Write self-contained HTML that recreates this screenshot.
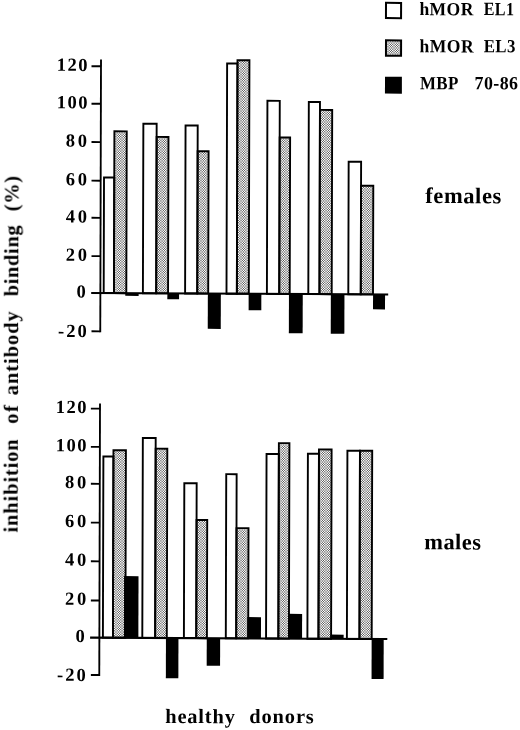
<!DOCTYPE html>
<html lang="en">
<head>
<meta charset="utf-8">
<title>Inhibition of antibody binding</title>
<style>
html,body{margin:0;padding:0;background:#fff;}
body{width:520px;height:730px;overflow:hidden;}
svg{display:block;filter:grayscale(1);}
text{font-family:"Liberation Serif","Times New Roman",serif;font-weight:bold;fill:#000;text-rendering:geometricPrecision;white-space:pre;}
</style>
</head>
<body>
<svg width="520" height="730" viewBox="0 0 520 730">
<defs>
<pattern id="dots" width="17" height="17" patternUnits="userSpaceOnUse" shape-rendering="crispEdges">
<rect width="17" height="17" fill="#fff"/>
<rect x="1" y="0" width="1" height="1" fill="#757575"/><rect x="2" y="0" width="1" height="1" fill="#cccccc"/><rect x="3" y="0" width="1" height="1" fill="#dedede"/><rect x="4" y="0" width="1" height="1" fill="#696969"/><rect x="6" y="0" width="1" height="1" fill="#5f5f5f"/><rect x="7" y="0" width="1" height="1" fill="#efefef"/><rect x="8" y="0" width="1" height="1" fill="#b9b9b9"/><rect x="9" y="0" width="1" height="1" fill="#848484"/><rect x="11" y="0" width="1" height="1" fill="#555555"/><rect x="13" y="0" width="1" height="1" fill="#959595"/><rect x="14" y="0" width="1" height="1" fill="#a7a7a7"/><rect x="15" y="0" width="1" height="1" fill="#fefefe"/><rect x="16" y="0" width="1" height="1" fill="#585858"/><rect x="0" y="1" width="1" height="1" fill="#757575"/><rect x="1" y="1" width="1" height="1" fill="#e9e9e9"/><rect x="2" y="1" width="1" height="1" fill="#adadad"/><rect x="3" y="1" width="1" height="1" fill="#a0a0a0"/><rect x="4" y="1" width="1" height="1" fill="#f2f2f2"/><rect x="5" y="1" width="1" height="1" fill="#737373"/><rect x="6" y="1" width="1" height="1" fill="#f9f9f9"/><rect x="7" y="1" width="1" height="1" fill="#949494"/><rect x="8" y="1" width="1" height="1" fill="#bababa"/><rect x="9" y="1" width="1" height="1" fill="#dfdfdf"/><rect x="10" y="1" width="1" height="1" fill="#7a7a7a"/><rect x="12" y="1" width="1" height="1" fill="#818181"/><rect x="13" y="1" width="1" height="1" fill="#d3d3d3"/><rect x="14" y="1" width="1" height="1" fill="#c6c6c6"/><rect x="15" y="1" width="1" height="1" fill="#8a8a8a"/><rect x="16" y="1" width="1" height="1" fill="#fefefe"/><rect x="0" y="2" width="1" height="1" fill="#cccccc"/><rect x="1" y="2" width="1" height="1" fill="#adadad"/><rect x="2" y="2" width="1" height="1" fill="#bdbdbd"/><rect x="3" y="2" width="1" height="1" fill="#c0c0c0"/><rect x="4" y="2" width="1" height="1" fill="#aaaaaa"/><rect x="5" y="2" width="1" height="1" fill="#cdcdcd"/><rect x="6" y="2" width="1" height="1" fill="#a8a8a8"/><rect x="7" y="2" width="1" height="1" fill="#c4c4c4"/><rect x="8" y="2" width="1" height="1" fill="#b9b9b9"/><rect x="9" y="2" width="1" height="1" fill="#afafaf"/><rect x="10" y="2" width="1" height="1" fill="#cbcbcb"/><rect x="11" y="2" width="1" height="1" fill="#a6a6a6"/><rect x="12" y="2" width="1" height="1" fill="#c9c9c9"/><rect x="13" y="2" width="1" height="1" fill="#b3b3b3"/><rect x="14" y="2" width="1" height="1" fill="#b6b6b6"/><rect x="15" y="2" width="1" height="1" fill="#c6c6c6"/><rect x="16" y="2" width="1" height="1" fill="#a7a7a7"/><rect x="0" y="3" width="1" height="1" fill="#dedede"/><rect x="1" y="3" width="1" height="1" fill="#a0a0a0"/><rect x="2" y="3" width="1" height="1" fill="#c0c0c0"/><rect x="3" y="3" width="1" height="1" fill="#c7c7c7"/><rect x="4" y="3" width="1" height="1" fill="#9b9b9b"/><rect x="5" y="3" width="1" height="1" fill="#dfdfdf"/><rect x="6" y="3" width="1" height="1" fill="#989898"/><rect x="7" y="3" width="1" height="1" fill="#cdcdcd"/><rect x="8" y="3" width="1" height="1" fill="#b9b9b9"/><rect x="9" y="3" width="1" height="1" fill="#a6a6a6"/><rect x="10" y="3" width="1" height="1" fill="#dbdbdb"/><rect x="11" y="3" width="1" height="1" fill="#949494"/><rect x="12" y="3" width="1" height="1" fill="#d8d8d8"/><rect x="13" y="3" width="1" height="1" fill="#acacac"/><rect x="14" y="3" width="1" height="1" fill="#b3b3b3"/><rect x="15" y="3" width="1" height="1" fill="#d3d3d3"/><rect x="16" y="3" width="1" height="1" fill="#959595"/><rect x="0" y="4" width="1" height="1" fill="#696969"/><rect x="1" y="4" width="1" height="1" fill="#f2f2f2"/><rect x="2" y="4" width="1" height="1" fill="#aaaaaa"/><rect x="3" y="4" width="1" height="1" fill="#9b9b9b"/><rect x="4" y="4" width="1" height="1" fill="#fcfcfc"/><rect x="5" y="4" width="1" height="1" fill="#666666"/><rect x="7" y="4" width="1" height="1" fill="#8d8d8d"/><rect x="8" y="4" width="1" height="1" fill="#bababa"/><rect x="9" y="4" width="1" height="1" fill="#e6e6e6"/><rect x="10" y="4" width="1" height="1" fill="#6e6e6e"/><rect x="12" y="4" width="1" height="1" fill="#777777"/><rect x="13" y="4" width="1" height="1" fill="#d8d8d8"/><rect x="14" y="4" width="1" height="1" fill="#c9c9c9"/><rect x="15" y="4" width="1" height="1" fill="#818181"/><rect x="1" y="5" width="1" height="1" fill="#737373"/><rect x="2" y="5" width="1" height="1" fill="#cdcdcd"/><rect x="3" y="5" width="1" height="1" fill="#dfdfdf"/><rect x="4" y="5" width="1" height="1" fill="#666666"/><rect x="6" y="5" width="1" height="1" fill="#5c5c5c"/><rect x="7" y="5" width="1" height="1" fill="#f1f1f1"/><rect x="8" y="5" width="1" height="1" fill="#b9b9b9"/><rect x="9" y="5" width="1" height="1" fill="#828282"/><rect x="11" y="5" width="1" height="1" fill="#515151"/><rect x="13" y="5" width="1" height="1" fill="#949494"/><rect x="14" y="5" width="1" height="1" fill="#a6a6a6"/><rect x="16" y="5" width="1" height="1" fill="#555555"/><rect x="0" y="6" width="1" height="1" fill="#5f5f5f"/><rect x="1" y="6" width="1" height="1" fill="#f9f9f9"/><rect x="2" y="6" width="1" height="1" fill="#a8a8a8"/><rect x="3" y="6" width="1" height="1" fill="#989898"/><rect x="5" y="6" width="1" height="1" fill="#5c5c5c"/><rect x="7" y="6" width="1" height="1" fill="#888888"/><rect x="8" y="6" width="1" height="1" fill="#bababa"/><rect x="9" y="6" width="1" height="1" fill="#ebebeb"/><rect x="10" y="6" width="1" height="1" fill="#656565"/><rect x="12" y="6" width="1" height="1" fill="#6e6e6e"/><rect x="13" y="6" width="1" height="1" fill="#dbdbdb"/><rect x="14" y="6" width="1" height="1" fill="#cbcbcb"/><rect x="15" y="6" width="1" height="1" fill="#7a7a7a"/><rect x="0" y="7" width="1" height="1" fill="#efefef"/><rect x="1" y="7" width="1" height="1" fill="#949494"/><rect x="2" y="7" width="1" height="1" fill="#c4c4c4"/><rect x="3" y="7" width="1" height="1" fill="#cdcdcd"/><rect x="4" y="7" width="1" height="1" fill="#8d8d8d"/><rect x="5" y="7" width="1" height="1" fill="#f1f1f1"/><rect x="6" y="7" width="1" height="1" fill="#888888"/><rect x="7" y="7" width="1" height="1" fill="#d7d7d7"/><rect x="8" y="7" width="1" height="1" fill="#b9b9b9"/><rect x="9" y="7" width="1" height="1" fill="#9c9c9c"/><rect x="10" y="7" width="1" height="1" fill="#ebebeb"/><rect x="11" y="7" width="1" height="1" fill="#828282"/><rect x="12" y="7" width="1" height="1" fill="#e6e6e6"/><rect x="13" y="7" width="1" height="1" fill="#a6a6a6"/><rect x="14" y="7" width="1" height="1" fill="#afafaf"/><rect x="15" y="7" width="1" height="1" fill="#dfdfdf"/><rect x="16" y="7" width="1" height="1" fill="#848484"/><rect x="0" y="8" width="1" height="1" fill="#b9b9b9"/><rect x="1" y="8" width="1" height="1" fill="#bababa"/><rect x="2" y="8" width="2" height="1" fill="#b9b9b9"/><rect x="4" y="8" width="1" height="1" fill="#bababa"/><rect x="5" y="8" width="1" height="1" fill="#b9b9b9"/><rect x="6" y="8" width="1" height="1" fill="#bababa"/><rect x="7" y="8" width="1" height="1" fill="#b9b9b9"/><rect x="8" y="8" width="2" height="1" fill="#bababa"/><rect x="10" y="8" width="1" height="1" fill="#b9b9b9"/><rect x="11" y="8" width="1" height="1" fill="#bababa"/><rect x="12" y="8" width="1" height="1" fill="#b9b9b9"/><rect x="13" y="8" width="2" height="1" fill="#bababa"/><rect x="15" y="8" width="1" height="1" fill="#b9b9b9"/><rect x="16" y="8" width="1" height="1" fill="#bababa"/><rect x="0" y="9" width="1" height="1" fill="#848484"/><rect x="1" y="9" width="1" height="1" fill="#dfdfdf"/><rect x="2" y="9" width="1" height="1" fill="#afafaf"/><rect x="3" y="9" width="1" height="1" fill="#a6a6a6"/><rect x="4" y="9" width="1" height="1" fill="#e6e6e6"/><rect x="5" y="9" width="1" height="1" fill="#828282"/><rect x="6" y="9" width="1" height="1" fill="#ebebeb"/><rect x="7" y="9" width="1" height="1" fill="#9c9c9c"/><rect x="8" y="9" width="1" height="1" fill="#bababa"/><rect x="9" y="9" width="1" height="1" fill="#d7d7d7"/><rect x="10" y="9" width="1" height="1" fill="#888888"/><rect x="11" y="9" width="1" height="1" fill="#f1f1f1"/><rect x="12" y="9" width="1" height="1" fill="#8d8d8d"/><rect x="13" y="9" width="1" height="1" fill="#cdcdcd"/><rect x="14" y="9" width="1" height="1" fill="#c4c4c4"/><rect x="15" y="9" width="1" height="1" fill="#949494"/><rect x="16" y="9" width="1" height="1" fill="#efefef"/><rect x="1" y="10" width="1" height="1" fill="#7a7a7a"/><rect x="2" y="10" width="1" height="1" fill="#cbcbcb"/><rect x="3" y="10" width="1" height="1" fill="#dbdbdb"/><rect x="4" y="10" width="1" height="1" fill="#6e6e6e"/><rect x="6" y="10" width="1" height="1" fill="#656565"/><rect x="7" y="10" width="1" height="1" fill="#ebebeb"/><rect x="8" y="10" width="1" height="1" fill="#b9b9b9"/><rect x="9" y="10" width="1" height="1" fill="#888888"/><rect x="11" y="10" width="1" height="1" fill="#5c5c5c"/><rect x="13" y="10" width="1" height="1" fill="#989898"/><rect x="14" y="10" width="1" height="1" fill="#a8a8a8"/><rect x="15" y="10" width="1" height="1" fill="#f9f9f9"/><rect x="16" y="10" width="1" height="1" fill="#5f5f5f"/><rect x="0" y="11" width="1" height="1" fill="#555555"/><rect x="2" y="11" width="1" height="1" fill="#a6a6a6"/><rect x="3" y="11" width="1" height="1" fill="#949494"/><rect x="5" y="11" width="1" height="1" fill="#515151"/><rect x="7" y="11" width="1" height="1" fill="#828282"/><rect x="8" y="11" width="1" height="1" fill="#bababa"/><rect x="9" y="11" width="1" height="1" fill="#f1f1f1"/><rect x="10" y="11" width="1" height="1" fill="#5c5c5c"/><rect x="12" y="11" width="1" height="1" fill="#666666"/><rect x="13" y="11" width="1" height="1" fill="#dfdfdf"/><rect x="14" y="11" width="1" height="1" fill="#cdcdcd"/><rect x="15" y="11" width="1" height="1" fill="#737373"/><rect x="1" y="12" width="1" height="1" fill="#818181"/><rect x="2" y="12" width="1" height="1" fill="#c9c9c9"/><rect x="3" y="12" width="1" height="1" fill="#d8d8d8"/><rect x="4" y="12" width="1" height="1" fill="#777777"/><rect x="6" y="12" width="1" height="1" fill="#6e6e6e"/><rect x="7" y="12" width="1" height="1" fill="#e6e6e6"/><rect x="8" y="12" width="1" height="1" fill="#b9b9b9"/><rect x="9" y="12" width="1" height="1" fill="#8d8d8d"/><rect x="11" y="12" width="1" height="1" fill="#666666"/><rect x="12" y="12" width="1" height="1" fill="#fcfcfc"/><rect x="13" y="12" width="1" height="1" fill="#9b9b9b"/><rect x="14" y="12" width="1" height="1" fill="#aaaaaa"/><rect x="15" y="12" width="1" height="1" fill="#f2f2f2"/><rect x="16" y="12" width="1" height="1" fill="#696969"/><rect x="0" y="13" width="1" height="1" fill="#959595"/><rect x="1" y="13" width="1" height="1" fill="#d3d3d3"/><rect x="2" y="13" width="1" height="1" fill="#b3b3b3"/><rect x="3" y="13" width="1" height="1" fill="#acacac"/><rect x="4" y="13" width="1" height="1" fill="#d8d8d8"/><rect x="5" y="13" width="1" height="1" fill="#949494"/><rect x="6" y="13" width="1" height="1" fill="#dbdbdb"/><rect x="7" y="13" width="1" height="1" fill="#a6a6a6"/><rect x="8" y="13" width="1" height="1" fill="#bababa"/><rect x="9" y="13" width="1" height="1" fill="#cdcdcd"/><rect x="10" y="13" width="1" height="1" fill="#989898"/><rect x="11" y="13" width="1" height="1" fill="#dfdfdf"/><rect x="12" y="13" width="1" height="1" fill="#9b9b9b"/><rect x="13" y="13" width="1" height="1" fill="#c7c7c7"/><rect x="14" y="13" width="1" height="1" fill="#c0c0c0"/><rect x="15" y="13" width="1" height="1" fill="#a0a0a0"/><rect x="16" y="13" width="1" height="1" fill="#dedede"/><rect x="0" y="14" width="1" height="1" fill="#a7a7a7"/><rect x="1" y="14" width="1" height="1" fill="#c6c6c6"/><rect x="2" y="14" width="1" height="1" fill="#b6b6b6"/><rect x="3" y="14" width="1" height="1" fill="#b3b3b3"/><rect x="4" y="14" width="1" height="1" fill="#c9c9c9"/><rect x="5" y="14" width="1" height="1" fill="#a6a6a6"/><rect x="6" y="14" width="1" height="1" fill="#cbcbcb"/><rect x="7" y="14" width="1" height="1" fill="#afafaf"/><rect x="8" y="14" width="1" height="1" fill="#bababa"/><rect x="9" y="14" width="1" height="1" fill="#c4c4c4"/><rect x="10" y="14" width="1" height="1" fill="#a8a8a8"/><rect x="11" y="14" width="1" height="1" fill="#cdcdcd"/><rect x="12" y="14" width="1" height="1" fill="#aaaaaa"/><rect x="13" y="14" width="1" height="1" fill="#c0c0c0"/><rect x="14" y="14" width="1" height="1" fill="#bdbdbd"/><rect x="15" y="14" width="1" height="1" fill="#adadad"/><rect x="16" y="14" width="1" height="1" fill="#cccccc"/><rect x="0" y="15" width="1" height="1" fill="#fefefe"/><rect x="1" y="15" width="1" height="1" fill="#8a8a8a"/><rect x="2" y="15" width="1" height="1" fill="#c6c6c6"/><rect x="3" y="15" width="1" height="1" fill="#d3d3d3"/><rect x="4" y="15" width="1" height="1" fill="#818181"/><rect x="6" y="15" width="1" height="1" fill="#7a7a7a"/><rect x="7" y="15" width="1" height="1" fill="#dfdfdf"/><rect x="8" y="15" width="1" height="1" fill="#b9b9b9"/><rect x="9" y="15" width="1" height="1" fill="#949494"/><rect x="10" y="15" width="1" height="1" fill="#f9f9f9"/><rect x="11" y="15" width="1" height="1" fill="#737373"/><rect x="12" y="15" width="1" height="1" fill="#f2f2f2"/><rect x="13" y="15" width="1" height="1" fill="#a0a0a0"/><rect x="14" y="15" width="1" height="1" fill="#adadad"/><rect x="15" y="15" width="1" height="1" fill="#e9e9e9"/><rect x="16" y="15" width="1" height="1" fill="#757575"/><rect x="0" y="16" width="1" height="1" fill="#585858"/><rect x="1" y="16" width="1" height="1" fill="#fefefe"/><rect x="2" y="16" width="1" height="1" fill="#a7a7a7"/><rect x="3" y="16" width="1" height="1" fill="#959595"/><rect x="5" y="16" width="1" height="1" fill="#555555"/><rect x="7" y="16" width="1" height="1" fill="#848484"/><rect x="8" y="16" width="1" height="1" fill="#bababa"/><rect x="9" y="16" width="1" height="1" fill="#efefef"/><rect x="10" y="16" width="1" height="1" fill="#5f5f5f"/><rect x="12" y="16" width="1" height="1" fill="#696969"/><rect x="13" y="16" width="1" height="1" fill="#dedede"/><rect x="14" y="16" width="1" height="1" fill="#cccccc"/><rect x="15" y="16" width="1" height="1" fill="#757575"/>
</pattern>
<filter id="soft" x="-2%" y="-2%" width="104%" height="104%"><feGaussianBlur stdDeviation="0.38"/></filter>
</defs>
<rect width="520" height="730" fill="#fff"/>
<!-- dithered fills (screen space, pixel aligned) -->
<polygon fill="url(#dots)" points="386.00,40.31 401.10,40.38 401.06,55.78 385.96,55.71"/>
<polygon fill="url(#dots)" points="114.39,131.32 126.74,131.38 126.30,293.18 113.95,293.11"/>
<polygon fill="url(#dots)" points="156.62,136.92 168.47,136.98 168.05,293.38 156.20,293.33"/>
<polygon fill="url(#dots)" points="197.63,151.17 208.58,151.23 208.20,293.58 197.25,293.53"/>
<polygon fill="url(#dots)" points="237.48,60.22 249.43,60.28 248.80,293.79 236.85,293.73"/>
<polygon fill="url(#dots)" points="279.67,137.42 290.12,137.48 289.70,293.99 279.25,293.94"/>
<polygon fill="url(#dots)" points="319.95,109.92 332.20,109.98 331.70,294.20 319.45,294.14"/>
<polygon fill="url(#dots)" points="361.04,185.67 373.29,185.73 373.00,294.41 360.75,294.35"/>
<polygon fill="url(#dots)" points="113.46,450.22 125.91,450.28 125.40,637.78 112.95,637.71"/>
<polygon fill="url(#dots)" points="155.66,448.67 167.31,448.73 166.80,637.98 155.15,637.93"/>
<polygon fill="url(#dots)" points="196.57,519.92 207.22,519.98 206.90,638.18 196.25,638.13"/>
<polygon fill="url(#dots)" points="236.50,528.12 248.50,528.18 248.20,638.39 236.20,638.33"/>
<polygon fill="url(#dots)" points="278.88,443.12 289.43,443.18 288.90,638.59 278.35,638.54"/>
<polygon fill="url(#dots)" points="318.96,449.42 331.61,449.48 331.10,638.80 318.45,638.74"/>
<polygon fill="url(#dots)" points="359.96,450.67 372.21,450.73 371.70,639.01 359.45,638.95"/>
<g filter="url(#soft)">
<g transform="matrix(1 0.005 -0.0027 1 0.9855 -1.3000)">
<!-- legend -->
<rect x="385.02" y="2.18" width="15.10" height="15.30" fill="#fff" stroke="#000" stroke-width="2.0"/>
<rect x="385.12" y="39.68" width="15.10" height="15.40" fill="none" stroke="#000" stroke-width="2.0"/>
<rect x="384.22" y="76.08" width="16.90" height="16.90" fill="#000"/>
<text><tspan x="418.45" y="14.31" textLength="54.47" lengthAdjust="spacingAndGlyphs" style="font-size:18.6px;letter-spacing:0.450px">hMOR</tspan> <tspan x="482.75" y="13.99" textLength="30.69" lengthAdjust="spacingAndGlyphs" style="font-size:18.6px;letter-spacing:0.450px">EL1</tspan></text>
<text><tspan x="418.75" y="51.41" textLength="54.47" lengthAdjust="spacingAndGlyphs" style="font-size:18.6px;letter-spacing:0.450px">hMOR</tspan> <tspan x="482.85" y="51.09" textLength="32.11" lengthAdjust="spacingAndGlyphs" style="font-size:18.6px;letter-spacing:0.450px">EL3</tspan></text>
<text><tspan x="419.25" y="88.40" textLength="38.80" lengthAdjust="spacingAndGlyphs" style="font-size:18.6px;letter-spacing:0.450px">MBP</tspan>  <tspan x="473.85" y="88.13" textLength="43.83" lengthAdjust="spacingAndGlyphs" style="font-size:18.6px;letter-spacing:0.450px">70-86</tspan></text>
<!-- labels -->
<text><tspan x="424.76" y="202.18" style="font-size:22.5px;letter-spacing:0.605px">females</tspan></text>
<text><tspan x="424.80" y="548.38" textLength="57.04" lengthAdjust="spacingAndGlyphs" style="font-size:22.5px;letter-spacing:0.450px">males</tspan></text>
<text><tspan x="166.17" y="723.37" style="font-size:20.4px;letter-spacing:0.849px">healthy</tspan>  <tspan x="250.17" y="722.95" style="font-size:20.4px;letter-spacing:0.904px">donors</tspan></text>
<g transform="rotate(-90)"><text><tspan x="-533.71" y="17.58" style="font-size:20.4px;letter-spacing:0.906px">inhibition</tspan>  <tspan x="-424.96" y="17.58" style="font-size:20.4px;letter-spacing:1.600px">of</tspan>  <tspan x="-396.41" y="17.58" style="font-size:20.4px;letter-spacing:0.980px">antibody</tspan>  <tspan x="-297.51" y="17.58" style="font-size:20.4px;letter-spacing:0.665px">binding</tspan>  <tspan x="-212.62" y="17.58" style="font-size:20.4px;letter-spacing:0.707px">(%)</tspan></text></g>
<!-- top chart: females -->
<rect x="103.51" y="178.21" width="10.25" height="115.63" fill="#fff" stroke="#000" stroke-width="1.9"/>
<rect x="113.76" y="132.05" width="12.35" height="161.80" fill="none" stroke="#000" stroke-width="1.9"/>
<rect x="125.06" y="293.84" width="13.40" height="2.70" fill="#000"/>
<rect x="142.71" y="124.26" width="13.30" height="169.59" fill="#fff" stroke="#000" stroke-width="1.9"/>
<rect x="156.01" y="137.44" width="11.85" height="156.41" fill="none" stroke="#000" stroke-width="1.9"/>
<rect x="167.16" y="293.84" width="11.70" height="5.79" fill="#000"/>
<rect x="184.91" y="125.80" width="12.15" height="168.05" fill="#fff" stroke="#000" stroke-width="1.9"/>
<rect x="197.06" y="151.49" width="10.95" height="142.36" fill="none" stroke="#000" stroke-width="1.9"/>
<rect x="207.66" y="293.84" width="13.00" height="35.28" fill="#000"/>
<rect x="226.31" y="63.60" width="10.35" height="230.25" fill="#fff" stroke="#000" stroke-width="1.9"/>
<rect x="236.66" y="60.34" width="11.95" height="233.51" fill="none" stroke="#000" stroke-width="1.9"/>
<rect x="248.46" y="293.84" width="12.70" height="16.38" fill="#000"/>
<rect x="266.71" y="100.79" width="12.35" height="193.05" fill="#fff" stroke="#000" stroke-width="1.9"/>
<rect x="279.06" y="137.33" width="10.45" height="156.52" fill="none" stroke="#000" stroke-width="1.9"/>
<rect x="288.76" y="293.84" width="13.80" height="39.18" fill="#000"/>
<rect x="308.11" y="101.69" width="11.15" height="192.16" fill="#fff" stroke="#000" stroke-width="1.9"/>
<rect x="319.26" y="109.62" width="12.25" height="184.22" fill="none" stroke="#000" stroke-width="1.9"/>
<rect x="330.66" y="293.84" width="13.60" height="39.47" fill="#000"/>
<rect x="348.11" y="161.23" width="12.45" height="132.61" fill="#fff" stroke="#000" stroke-width="1.9"/>
<rect x="360.56" y="185.17" width="12.25" height="108.68" fill="none" stroke="#000" stroke-width="1.9"/>
<rect x="372.86" y="293.84" width="12.00" height="14.96" fill="#000"/>
<line x1="100.18" y1="60.20" x2="100.18" y2="333.00" stroke="#000" stroke-width="1.85"/>
<line x1="90.70" y1="67.05" x2="100.18" y2="67.05" stroke="#000" stroke-width="1.85"/>
<line x1="90.80" y1="104.55" x2="100.18" y2="104.55" stroke="#000" stroke-width="1.85"/>
<line x1="90.90" y1="142.85" x2="100.18" y2="142.85" stroke="#000" stroke-width="1.85"/>
<line x1="91.00" y1="181.54" x2="100.18" y2="181.54" stroke="#000" stroke-width="1.85"/>
<line x1="91.10" y1="218.64" x2="100.18" y2="218.64" stroke="#000" stroke-width="1.85"/>
<line x1="91.21" y1="256.94" x2="100.18" y2="256.94" stroke="#000" stroke-width="1.85"/>
<line x1="91.41" y1="332.14" x2="100.18" y2="332.14" stroke="#000" stroke-width="1.85"/>
<line x1="91.01" y1="293.84" x2="388.00" y2="293.84" stroke="#000" stroke-width="2.05"/>
<text><tspan x="55.91" y="71.82" style="font-size:18.5px;letter-spacing:1.475px">120</tspan></text>
<text><tspan x="56.01" y="109.32" style="font-size:18.5px;letter-spacing:1.475px">100</tspan></text>
<text><tspan x="65.21" y="147.57" style="font-size:18.5px;letter-spacing:2.800px">80</tspan></text>
<text><tspan x="65.32" y="186.27" style="font-size:18.5px;letter-spacing:2.800px">60</tspan></text>
<text><tspan x="65.42" y="223.37" style="font-size:18.5px;letter-spacing:2.800px">40</tspan></text>
<text><tspan x="65.52" y="261.67" style="font-size:18.5px;letter-spacing:2.800px">20</tspan></text>
<text><tspan x="76.32" y="298.52" style="font-size:18.5px;letter-spacing:0.000px">0</tspan></text>
<text><tspan x="57.93" y="338.01" style="font-size:18.5px;letter-spacing:2.020px">-20</tspan></text>
<!-- bottom chart: males -->
<rect x="103.64" y="457.21" width="10.05" height="181.23" fill="#fff" stroke="#000" stroke-width="1.9"/>
<rect x="113.69" y="450.95" width="12.45" height="187.50" fill="none" stroke="#000" stroke-width="1.9"/>
<rect x="124.64" y="576.74" width="14.45" height="61.70" fill="#000"/>
<rect x="143.04" y="438.51" width="12.85" height="199.94" fill="#fff" stroke="#000" stroke-width="1.9"/>
<rect x="155.89" y="449.19" width="11.65" height="189.25" fill="none" stroke="#000" stroke-width="1.9"/>
<rect x="166.69" y="638.45" width="12.50" height="40.19" fill="#000"/>
<rect x="184.64" y="483.55" width="12.35" height="154.90" fill="#fff" stroke="#000" stroke-width="1.9"/>
<rect x="196.99" y="520.24" width="10.65" height="118.21" fill="none" stroke="#000" stroke-width="1.9"/>
<rect x="207.49" y="638.45" width="13.40" height="27.48" fill="#000"/>
<rect x="226.54" y="474.30" width="10.40" height="164.15" fill="#fff" stroke="#000" stroke-width="1.9"/>
<rect x="236.94" y="528.23" width="12.00" height="110.21" fill="none" stroke="#000" stroke-width="1.9"/>
<rect x="247.99" y="617.13" width="13.70" height="21.32" fill="#000"/>
<rect x="266.79" y="453.89" width="12.30" height="184.56" fill="#fff" stroke="#000" stroke-width="1.9"/>
<rect x="279.09" y="443.03" width="10.55" height="195.42" fill="none" stroke="#000" stroke-width="1.9"/>
<rect x="289.29" y="613.72" width="13.50" height="24.73" fill="#000"/>
<rect x="308.14" y="453.44" width="11.05" height="185.01" fill="#fff" stroke="#000" stroke-width="1.9"/>
<rect x="319.19" y="449.12" width="12.65" height="189.32" fill="none" stroke="#000" stroke-width="1.9"/>
<rect x="331.19" y="634.21" width="13.20" height="4.23" fill="#000"/>
<rect x="347.64" y="450.24" width="12.55" height="188.21" fill="#fff" stroke="#000" stroke-width="1.9"/>
<rect x="360.19" y="450.17" width="12.25" height="188.28" fill="none" stroke="#000" stroke-width="1.9"/>
<rect x="372.39" y="638.45" width="12.05" height="39.96" fill="#000"/>
<line x1="100.11" y1="404.30" x2="100.11" y2="676.70" stroke="#000" stroke-width="1.85"/>
<line x1="91.02" y1="409.44" x2="100.11" y2="409.44" stroke="#000" stroke-width="1.85"/>
<line x1="91.12" y1="447.69" x2="100.11" y2="447.69" stroke="#000" stroke-width="1.85"/>
<line x1="91.22" y1="484.64" x2="100.11" y2="484.64" stroke="#000" stroke-width="1.85"/>
<line x1="91.33" y1="523.44" x2="100.11" y2="523.44" stroke="#000" stroke-width="1.85"/>
<line x1="91.43" y1="562.14" x2="100.11" y2="562.14" stroke="#000" stroke-width="1.85"/>
<line x1="91.54" y1="601.34" x2="100.11" y2="601.34" stroke="#000" stroke-width="1.85"/>
<line x1="91.74" y1="675.84" x2="100.11" y2="675.84" stroke="#000" stroke-width="1.85"/>
<line x1="90.84" y1="638.45" x2="388.03" y2="638.45" stroke="#000" stroke-width="2.05"/>
<text><tspan x="55.93" y="413.92" style="font-size:18.5px;letter-spacing:1.475px">120</tspan></text>
<text><tspan x="56.04" y="452.17" style="font-size:18.5px;letter-spacing:1.475px">100</tspan></text>
<text><tspan x="65.23" y="489.07" style="font-size:18.5px;letter-spacing:2.800px">80</tspan></text>
<text><tspan x="65.34" y="527.87" style="font-size:18.5px;letter-spacing:2.800px">60</tspan></text>
<text><tspan x="65.44" y="566.57" style="font-size:18.5px;letter-spacing:2.800px">40</tspan></text>
<text><tspan x="65.55" y="605.77" style="font-size:18.5px;letter-spacing:2.800px">20</tspan></text>
<text><tspan x="76.35" y="642.82" style="font-size:18.5px;letter-spacing:0.000px">0</tspan></text>
<text><tspan x="57.96" y="681.81" style="font-size:18.5px;letter-spacing:2.020px">-20</tspan></text>
</g>
</g>
</svg>
</body>
</html>
